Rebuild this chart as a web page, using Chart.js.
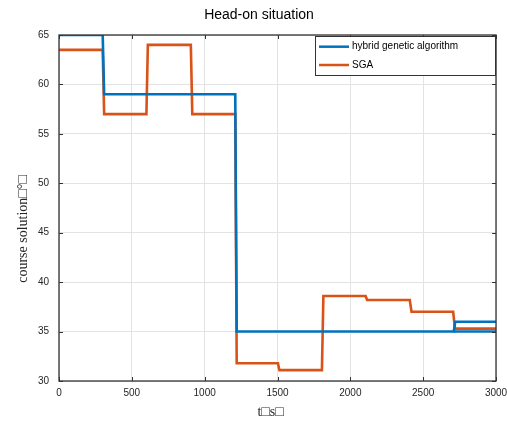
<!DOCTYPE html>
<html>
<head>
<meta charset="utf-8">
<script src="https://cdn.jsdelivr.net/npm/chart.js@4"></script>
<style>
html,body{margin:0;padding:0;background:#fff;}
#wrap{width:507px;height:421px;position:relative;}
</style>
</head>
<body>
<div id="wrap"><canvas id="c" width="507" height="421"></canvas></div>
<script>
// ---- data ----
const chartTitle = "Head-on situation";
const xAxisLabel = "t\u25A1s\u25A1\u2002\u2002";
const yAxisLabel = "course solution\u25A1\u00B0\u25A1\u2003\u2003\u2003";
const seriesNames = ["hybrid genetic algorithm", "SGA"];
const xTicks = [0, 500, 1000, 1500, 2000, 2500, 3000];
const yTicks = [30, 35, 40, 45, 50, 55, 60, 65];

const hybridT = [0, 300, 310, 1210, 1220, 2710, 2720, 3000];
const hybridV = [65, 65, 59, 59, 35, 35, 36, 36];
const hybridExtraT = [2710, 3000];
const hybridExtraV = [35, 35];

const sgaT = [0, 300, 310, 600, 610, 905, 915, 1210, 1220, 1503, 1513, 1805, 1815, 2105, 2115, 2408, 2420, 2706, 2718, 3000];
const sgaV = [63.5, 63.5, 57, 57, 64, 64, 57, 57, 31.8, 31.8, 31.1, 31.1, 38.6, 38.6, 38.2, 38.2, 37.0, 37.0, 35.3, 35.3];

const blue = '#0072BD';
const orange = '#D95319';
const axisColor = '#333333';
const sans = "'Liberation Sans', Arial, Helvetica, sans-serif";
const serif = "'Liberation Serif', 'Times New Roman', serif";

function pts(t, v){ return t.map((x,i)=>({x:x, y:v[i]})); }

const framePlugin = {
  id: 'frame',
  afterDatasetsDraw(chart){
    const {ctx, chartArea:a, scales} = chart;
    const xs = scales.x, ys = scales.y;
    ctx.save();
    ctx.strokeStyle = axisColor;
    ctx.lineWidth = 1;
    ctx.beginPath();
    xTicks.forEach(v=>{
      const p = Math.round(xs.getPixelForValue(v)) + 0.5;
      ctx.moveTo(p, a.bottom); ctx.lineTo(p, a.bottom - 4);
      ctx.moveTo(p, a.top); ctx.lineTo(p, a.top + 4);
    });
    yTicks.forEach(v=>{
      const p = Math.round(ys.getPixelForValue(v)) + 0.5;
      ctx.moveTo(a.left, p); ctx.lineTo(a.left + 4, p);
      ctx.moveTo(a.right, p); ctx.lineTo(a.right - 4, p);
    });
    ctx.stroke();
    ctx.lineWidth = 1.3;
    ctx.strokeRect(a.left, a.top, a.right - a.left, a.bottom - a.top);
    ctx.restore();
  },
  afterDraw(chart){
    const {ctx, chartArea:a} = chart;
    const w = 181, h = 40;
    const x0 = a.right - w, y0 = a.top + 1;
    ctx.save();
    ctx.fillStyle = '#fff';
    ctx.fillRect(x0, y0, w, h);
    ctx.strokeStyle = axisColor;
    ctx.lineWidth = 1;
    ctx.strokeRect(x0 + 0.5, y0 + 0.5, w - 1, h - 1);
    const items = chart.data.datasets.filter(d => !d.hideInLegend);
    ctx.font = "10px " + sans;
    ctx.textBaseline = 'middle';
    ctx.textAlign = 'left';
    items.forEach((d, i)=>{
      const y = y0 + 10.7 + i * 18.3;
      ctx.strokeStyle = d.borderColor;
      ctx.lineWidth = 2.5;
      ctx.beginPath();
      ctx.moveTo(x0 + 4, y); ctx.lineTo(x0 + 34, y);
      ctx.stroke();
      ctx.fillStyle = '#000';
      ctx.fillText(d.label, x0 + 37, y);
    });
    ctx.restore();
  }
};

new Chart(document.getElementById('c'), {
  type: 'line',
  data: {
    datasets: [
      { label: seriesNames[0], data: pts(hybridT, hybridV), borderColor: blue, backgroundColor: blue, borderWidth: 2.6, pointRadius: 0, tension: 0 },
      { label: seriesNames[0], hideInLegend: true, data: pts(hybridExtraT, hybridExtraV), borderColor: blue, backgroundColor: blue, borderWidth: 2.6, pointRadius: 0, tension: 0 },
      { label: seriesNames[1], data: pts(sgaT, sgaV), borderColor: orange, backgroundColor: orange, borderWidth: 2.6, pointRadius: 0, tension: 0 }
    ]
  },
  options: {
    responsive: false,
    animation: false,
    devicePixelRatio: 1,
    layout: { padding: { left: 11, right: 0, top: 0, bottom: 0 } },
    plugins: {
      legend: { display: false },
      tooltip: { enabled: false },
      title: {
        display: true, text: chartTitle, color: '#000',
        font: { family: sans, size: 14, weight: 'normal', lineHeight: 1.2 },
        padding: { top: 6.6, bottom: 11.6 }
      }
    },
    scales: {
      x: {
        type: 'linear', min: 0, max: 3000,
        afterBuildTicks(s){ s.ticks = xTicks.map(v=>({value:v})); },
        afterFit(s){ s.height = 40; s.paddingLeft = 0; s.paddingRight = 0; },
        grid: { color: '#e3e3e3', lineWidth: 1, drawTicks: false },
        border: { display: false },
        ticks: { color: '#262626', padding: 6, maxRotation: 0, font: { family: sans, size: 10 }, callback: v => String(v) },
        title: { display: true, text: xAxisLabel, color: '#262626', font: { family: serif, size: 14 }, padding: { top: 0, bottom: 0 } }
      },
      y: {
        type: 'linear', min: 30, max: 65,
        afterBuildTicks(s){ s.ticks = yTicks.map(v=>({value:v})); },
        afterFit(s){ s.width = 48; s.paddingTop = 0; s.paddingBottom = 0; },
        grid: { color: '#e3e3e3', lineWidth: 1, drawTicks: false },
        border: { display: false },
        ticks: { color: '#262626', padding: 10, font: { family: sans, size: 10 }, callback: v => String(v) },
        title: { display: true, text: yAxisLabel, color: '#262626', font: { family: serif, size: 14 }, padding: { top: 4, bottom: 0 } }
      },
      yr: {
        type: 'linear', position: 'right', display: true,
        afterFit(s){ s.width = 11; s.paddingTop = 0; s.paddingBottom = 0; },
        grid: { display: false, drawTicks: false },
        border: { display: false },
        ticks: { display: false }
      }
    }
  },
  plugins: [framePlugin]
});
</script>
</body>
</html>
